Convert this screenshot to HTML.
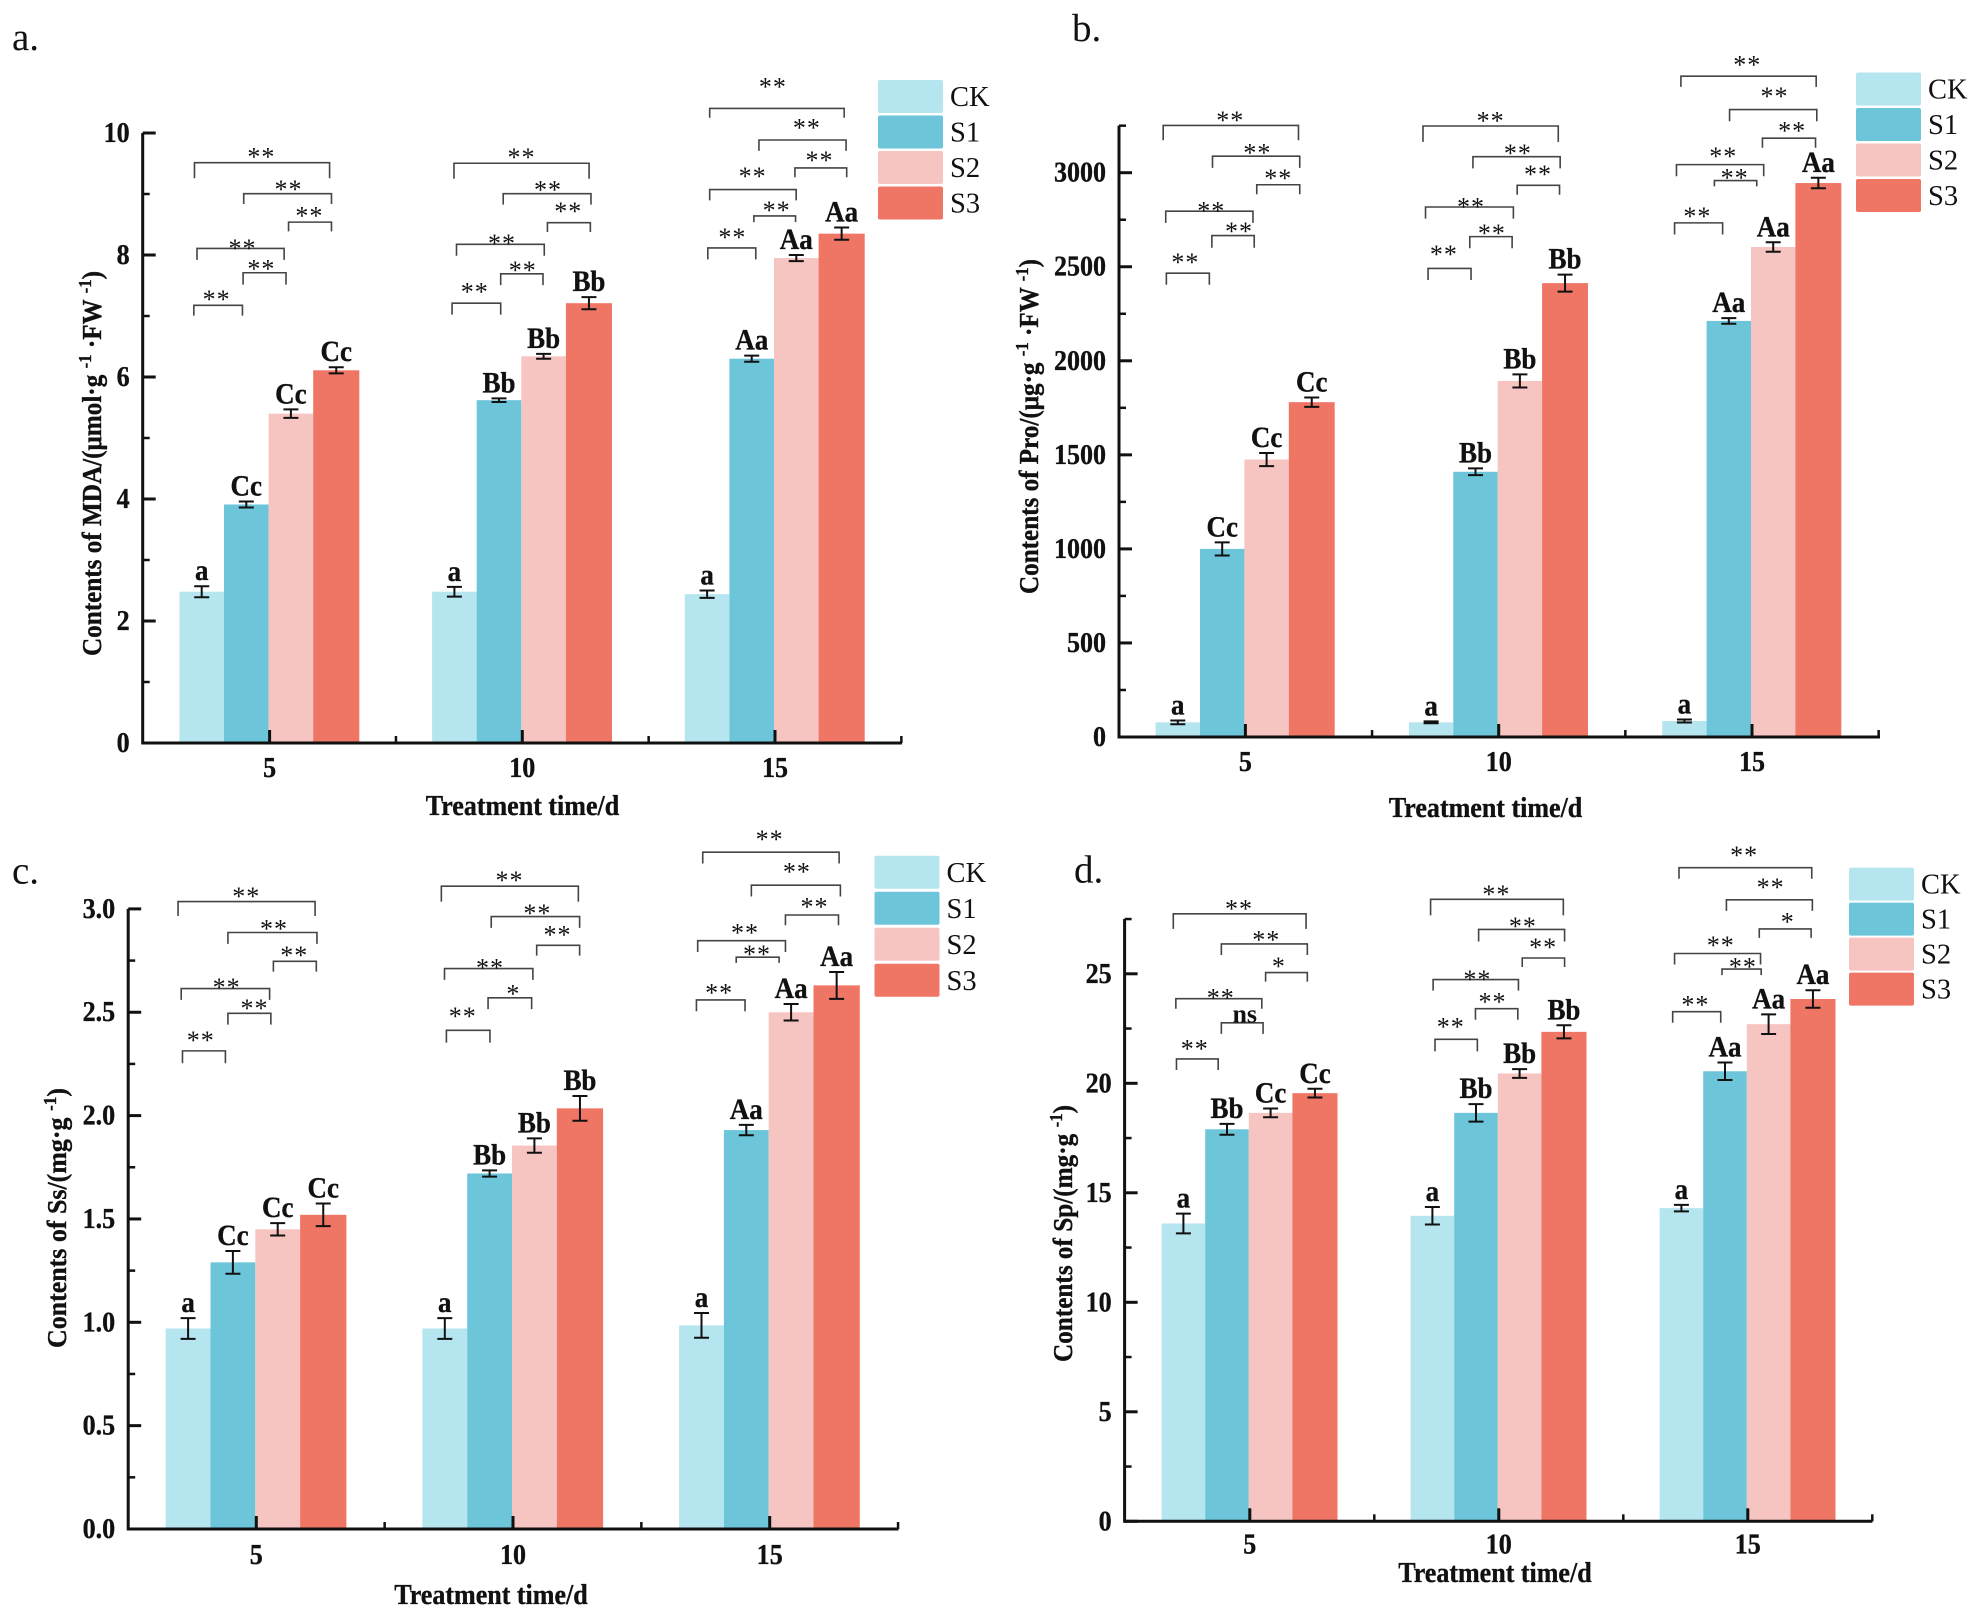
<!DOCTYPE html>
<html lang="en">
<head>
<meta charset="utf-8">
<title>Contents of MDA, Pro, Ss and Sp under treatment time</title>
<style>
html,body{margin:0;padding:0;background:#fff;}
svg{display:block;}
text{font-family:"Liberation Serif","Noto Serif CJK SC",serif;fill:#111;}
text.heavy{stroke:#111;stroke-width:0.35px;}
</style>
</head>
<body>
<svg id="figure" xmlns="http://www.w3.org/2000/svg" width="1981" height="1617" viewBox="0 0 1981 1617"></svg>
<script>
const categories = ['5', '10', '15'];
const seriesNames = ['CK', 'S1', 'S2', 'S3'];

const mdaCK = [2.48, 2.48, 2.44];
const mdaS1 = [3.91, 5.62, 6.30];
const mdaS2 = [5.40, 6.34, 7.95];
const mdaS3 = [6.11, 7.21, 8.35];
const mdaCKErr = [0.09, 0.08, 0.06];
const mdaS1Err = [0.05, 0.03, 0.05];
const mdaS2Err = [0.07, 0.04, 0.05];
const mdaS3Err = [0.05, 0.10, 0.10];
const mdaTicks = ['0', '2', '4', '6', '8', '10'];

const proCK = [78, 78, 85];
const proS1 = [1000, 1410, 2212];
const proS2 = [1475, 1893, 2605];
const proS3 = [1780, 2413, 2945];
const proCKErr = [10, 5, 8];
const proS1Err = [35, 18, 15];
const proS2Err = [35, 35, 25];
const proS3Err = [25, 45, 28];
const proTicks = ['0', '500', '1000', '1500', '2000', '2500', '3000'];

const ssCK = [0.97, 0.97, 0.985];
const ssS1 = [1.29, 1.72, 1.93];
const ssS2 = [1.45, 1.855, 2.50];
const ssS3 = [1.52, 2.035, 2.63];
const ssCKErr = [0.05, 0.05, 0.06];
const ssS1Err = [0.055, 0.015, 0.025];
const ssS2Err = [0.03, 0.035, 0.04];
const ssS3Err = [0.055, 0.06, 0.065];
const ssTicks = ['0.0', '0.5', '1.0', '1.5', '2.0', '2.5', '3.0'];

const spCK = [13.6, 13.95, 14.3];
const spS1 = [17.9, 18.65, 20.55];
const spS2 = [18.65, 20.45, 22.7];
const spS3 = [19.55, 22.35, 23.85];
const spCKErr = [0.45, 0.4, 0.15];
const spS1Err = [0.25, 0.4, 0.4];
const spS2Err = [0.2, 0.2, 0.45];
const spS3Err = [0.2, 0.3, 0.4];
const spTicks = ['0', '5', '10', '15', '20', '25'];

const lettersCK = ['a', 'a', 'a'];
const lettersCBA = ['Cc', 'Bb', 'Aa'];
const lettersBBA = ['Bb', 'Bb', 'Aa'];

const seriesColors = ['#b5e5ef', '#6cc5d9', '#f7c5c1', '#ef7565'];

const NS = 'http://www.w3.org/2000/svg';
const figure = document.getElementById('figure');

function make(tag, attrs, parent, text) {
  const el = document.createElementNS(NS, tag);
  for (const k in attrs) el.setAttribute(k, attrs[k]);
  if (text !== undefined) el.textContent = text;
  parent.appendChild(el);
  return el;
}

// Narrow a label horizontally about its own x position.
function squash(el, x, f) {
  el.setAttribute('transform', 'translate(' + (x * (1 - f)) + ' 0) scale(' + f + ' 1)');
  el.setAttribute('class', 'heavy');
}

function yScale(p) {
  return function (v) { return p.yZero - v * p.pxPerUnit; };
}
function xScale(p) {
  return function (groupIndex) { return p.xFirst + groupIndex * p.xStep; };
}

function drawPanel(p) {
  const g = make('g', {}, figure);
  
  
  const y = yScale(p);
  const x = xScale(p);

  const panelLetter = make('text', {x: p.letterX, y: p.letterY, 'font-size': 39}, g, p.id + '.');
  
  

  // bars, error bars and letters
  p.values.forEach(function (series, s) {
    series.forEach(function (v, c) {
      const left = x(c) - 2 * p.barW + s * p.barW - 1;
      const w = s === 3 ? p.barW + 1.5 : p.barW;
      const bar = make('rect', {x: left, y: y(v), width: w, height: p.yZero - y(v), fill: seriesColors[s]}, g);
      
      
    });
  });
  p.values.forEach(function (series, s) {
    const errs = p.errors[s];
    const letters = p.letters[s];
    series.forEach(function (v, c) {
      const w = s === 3 ? p.barW + 1.5 : p.barW;
      const cx = x(c) - 2 * p.barW + s * p.barW - 1 + w / 2;
      const top = y(v + errs[c]);
      const bot = y(v - errs[c]);
      const d = 'M' + (cx - 7.5) + ' ' + top + 'H' + (cx + 7.5) + 'M' + cx + ' ' + top + 'V' + bot + 'M' + (cx - 7.5) + ' ' + bot + 'H' + (cx + 7.5);
      const err = make('path', {d: d, stroke: '#111', 'stroke-width': 2, fill: 'none'}, g);
      
      
      const lab = make('text', {x: cx, y: top - 6, 'font-size': 30, 'font-weight': 'bold', 'text-anchor': 'middle'}, g, letters[c]);
      squash(lab, cx, 0.9);
      
      
    });
  });

  // y axis
  const yAxis = make('path', {d: 'M' + p.xAxis + ' ' + (p.yZero + 1.5) + 'V' + y(p.yTop), stroke: '#111', 'stroke-width': 3, fill: 'none'}, g);
  
  
  p.ticks.forEach(function (t, i) {
    const v = parseFloat(t);
    const tick = make('path', {d: 'M' + p.xAxis + ' ' + y(v) + 'h13', stroke: '#111', 'stroke-width': 3}, g);
    
    
    const label = make('text', {x: p.xAxis - 13, y: y(v) + 9, 'font-size': 28, 'font-weight': 'bold', 'text-anchor': 'end'}, g, t);
    squash(label, p.xAxis - 13, 0.93);
    
    
    const step = parseFloat(p.ticks[1]) - parseFloat(p.ticks[0]);
    const mid = v + step / 2;
    if (mid <= p.yTop) {
      const minor = make('path', {d: 'M' + p.xAxis + ' ' + y(mid) + 'h7', stroke: '#111', 'stroke-width': 2.5}, g);
      
      
    }
  });

  // x axis
  const xAxis = make('path', {d: 'M' + p.xAxis + ' ' + p.yZero + 'H' + p.xEnd, stroke: '#111', 'stroke-width': 3, fill: 'none'}, g);
  
  
  categories.forEach(function (cat, c) {
    const tick = make('path', {d: 'M' + x(c) + ' ' + p.yZero + 'v-13', stroke: '#111', 'stroke-width': 3}, g);
    
    
    const minor = make('path', {d: 'M' + (x(c) + p.xStep / 2) + ' ' + p.yZero + 'v-7', stroke: '#111', 'stroke-width': 2.5}, g);
    
    
    const label = make('text', {x: x(c), y: p.yZero + p.xLabelGap, 'font-size': 28, 'font-weight': 'bold', 'text-anchor': 'middle'}, g, cat);
    squash(label, x(c), 0.93);
    
    
  });

  // axis titles
  const xTitle = make('text', {x: p.xTitleX, y: p.xTitleY, 'font-size': 28, 'font-weight': 'bold', 'text-anchor': 'middle'}, g, 'Treatment time/d');
  squash(xTitle, p.xTitleX, 0.93);
  
  

  const yTitle = make('text', {class: 'heavy', x: p.yTitleX, y: p.yTitleY, 'font-size': 27, 'font-weight': 'bold', 'text-anchor': 'middle', textLength: p.yTitleLen, lengthAdjust: 'spacingAndGlyphs', transform: 'rotate(-90 ' + p.yTitleX + ' ' + p.yTitleY + ')'}, g);
  yTitle.innerHTML = p.yTitleMarkup;
  
  

  // legend
  seriesNames.forEach(function (name, s) {
    const entry = make('g', {}, g);
    
    
    const sy = p.legendY + s * p.legendStep;
    const swatch = make('rect', {x: p.legendX, y: sy, width: 65, height: 33, rx: 2, fill: seriesColors[s]}, entry);
    
    
    const label = make('text', {x: p.legendX + 72, y: sy + 26, 'font-size': 28.5}, entry, name);
    
    
  });

  p.group = g;
}

// Significance bracket, given in the panel's annotation grid.
function bracket(p, x1, x2, top, drop, sx, sy, mark) {
  const ax = function (v) { return p.annX + v / p.annSx; };
  const ay = function (v) { return p.annY + v / p.annSy; };
  const d = 'M' + ax(x1) + ' ' + ay(top + drop) + 'V' + ay(top) + 'H' + ax(x2) + 'V' + ay(top + drop);
  const line = make('path', {d: d, fill: 'none', stroke: '#444', 'stroke-width': 1.6}, p.group);
  
  
  const label = mark || '**';
  const isNs = label === 'ns';
  const t = make('text', {x: ax(sx), y: ay(sy) + (isNs ? 8 : 12), 'font-size': 26, 'font-weight': isNs ? 'bold' : 'normal', 'text-anchor': 'middle', 'letter-spacing': isNs ? 0 : 1}, p.group, label);
  
  
}

const SUP = function (s) { return '<tspan dy="-10" font-size="18">' + s + '</tspan>'; };
const DOWN = function (s) { return '<tspan dy="10">' + s + '</tspan>'; };

const panelA = {
  id: 'a', letterX: 12, letterY: 50,
  values: [mdaCK, mdaS1, mdaS2, mdaS3], errors: [mdaCKErr, mdaS1Err, mdaS2Err, mdaS3Err],
  letters: [lettersCK, lettersCBA, lettersCBA, lettersCBA], ticks: mdaTicks,
  yZero: 743, pxPerUnit: 61, yTop: 10, xAxis: 142.7, xEnd: 902, xFirst: 269.6, xStep: 252.7, barW: 44.6,
  xLabelGap: 34, xTitleX: 522.5, xTitleY: 815,
  yTitleX: 101, yTitleY: 463.5, yTitleLen: 385,
  yTitleMarkup: 'Contents of MDA/(μmol·g ' + SUP('-1') + DOWN(' ·FW ') + SUP('-1') + DOWN(')'),
  legendX: 878, legendY: 80, legendStep: 35.5,
  annX: 0, annY: 0, annSx: 1.5838, annSy: 1.9358
};
const panelB = {
  id: 'b', letterX: 1072, letterY: 41,
  values: [proCK, proS1, proS2, proS3], errors: [proCKErr, proS1Err, proS2Err, proS3Err],
  letters: [lettersCK, lettersCBA, lettersCBA, lettersCBA], ticks: proTicks,
  yZero: 737, pxPerUnit: 0.1881, yTop: 3250, xAxis: 1119, xEnd: 1880, xFirst: 1245.4, xStep: 253.3, barW: 44.4,
  xLabelGap: 34, xTitleX: 1485.6, xTitleY: 817,
  yTitleX: 1038, yTitleY: 426.5, yTitleLen: 335,
  yTitleMarkup: 'Contents of Pro/(μg·g ' + SUP('-1') + DOWN(' ·FW ') + SUP('-1') + DOWN(')'),
  legendX: 1856, legendY: 72.5, legendStep: 35.5,
  annX: 990, annY: 0, annSx: 1.582, annSy: 1.889
};
const panelC = {
  id: 'c', letterX: 12, letterY: 883.6,
  values: [ssCK, ssS1, ssS2, ssS3], errors: [ssCKErr, ssS1Err, ssS2Err, ssS3Err],
  letters: [lettersCK, lettersCBA, lettersCBA, lettersCBA], ticks: ssTicks,
  yZero: 1529, pxPerUnit: 206.7, yTop: 3, xAxis: 128.2, xEnd: 898.5, xFirst: 256.3, xStep: 256.7, barW: 44.8,
  xLabelGap: 35, xTitleX: 491, xTitleY: 1604,
  yTitleX: 66, yTitleY: 1218, yTitleLen: 260,
  yTitleMarkup: 'Contents of Ss/(mg·g ' + SUP('-1') + DOWN(')'),
  legendX: 874.5, legendY: 855.8, legendStep: 36,
  annX: 0, annY: 810, annSx: 1.5838, annSy: 1.943
};
const panelD = {
  id: 'd', letterX: 1074, letterY: 882.7,
  values: [spCK, spS1, spS2, spS3], errors: [spCKErr, spS1Err, spS2Err, spS3Err],
  letters: [lettersCK, lettersBBA, lettersCBA, lettersCBA], ticks: spTicks,
  yZero: 1521.3, pxPerUnit: 21.9, yTop: 27.5, xAxis: 1124.6, xEnd: 1872.4, xFirst: 1249.8, xStep: 249, barW: 43.6,
  xLabelGap: 32, xTitleX: 1495, xTitleY: 1582,
  yTitleX: 1072, yTitleY: 1233.5, yTitleLen: 257,
  yTitleMarkup: 'Contents of Sp/(mg·g ' + SUP('-1') + DOWN(')'),
  legendX: 1849, legendY: 867.6, legendStep: 35,
  annX: 990, annY: 830, annSx: 1.582, annSy: 1.992
};

[panelA, panelB, panelC, panelD].forEach(drawPanel);

// Panel a brackets
bracket(panelA, 308, 522, 315, 30, 414, 297);
bracket(panelA, 386, 525, 375, 20, 457, 360);
bracket(panelA, 457, 525, 430, 18, 490, 411);
bracket(panelA, 312, 450, 481, 22, 384, 474);
bracket(panelA, 385, 453, 528, 23, 414, 514);
bracket(panelA, 307, 384, 591, 20, 343, 573);
bracket(panelA, 719, 933, 316, 30, 826, 298);
bracket(panelA, 797, 936, 375, 21, 868, 361);
bracket(panelA, 867, 935, 431, 18, 900, 403);
bracket(panelA, 723, 862, 473, 22, 795, 465);
bracket(panelA, 793, 860, 530, 22, 828, 517);
bracket(panelA, 716, 793, 587, 22, 752, 558);
bracket(panelA, 1124, 1337, 210, 18, 1224, 162);
bracket(panelA, 1202, 1340, 271, 21, 1278, 241);
bracket(panelA, 1259, 1341, 325, 18, 1298, 304);
bracket(panelA, 1124, 1261, 367, 21, 1192, 335);
bracket(panelA, 1194, 1260, 418, 12, 1230, 401);
bracket(panelA, 1121, 1197, 480, 22, 1160, 453);

// Panel b brackets
bracket(panelB, 274, 488, 237, 28, 380, 221);
bracket(panelB, 352, 490, 295, 22, 423, 282);
bracket(panelB, 422, 490, 349, 18, 456, 331);
bracket(panelB, 278, 416, 399, 22, 350, 392);
bracket(panelB, 351, 418, 445, 23, 394, 431);
bracket(panelB, 279, 347, 516, 22, 309, 489);
bracket(panelB, 685, 899, 238, 30, 792, 222);
bracket(panelB, 764, 902, 296, 22, 835, 283);
bracket(panelB, 834, 901, 350, 18, 867, 323);
bracket(panelB, 689, 828, 391, 22, 761, 384);
bracket(panelB, 759, 826, 447, 22, 794, 434);
bracket(panelB, 693, 761, 507, 22, 718, 474);
bracket(panelB, 1093, 1307, 144, 20, 1198, 116);
bracket(panelB, 1170, 1308, 207, 22, 1241, 176);
bracket(panelB, 1222, 1306, 261, 18, 1269, 241);
bracket(panelB, 1086, 1224, 311, 22, 1160, 289);
bracket(panelB, 1146, 1213, 341, 11, 1178, 330);
bracket(panelB, 1083, 1159, 421, 22, 1119, 402);

// Panel c brackets
bracket(panelC, 282, 499, 178, 28, 390, 161);
bracket(panelC, 361, 502, 238, 22, 434, 224);
bracket(panelC, 433, 501, 294, 20, 466, 276);
bracket(panelC, 287, 427, 347, 22, 359, 338);
bracket(panelC, 361, 429, 395, 22, 403, 379);
bracket(panelC, 289, 357, 468, 24, 318, 441);
bracket(panelC, 699, 916, 148, 30, 807, 130);
bracket(panelC, 778, 918, 207, 22, 851, 194);
bracket(panelC, 850, 918, 263, 20, 883, 236);
bracket(panelC, 704, 844, 308, 22, 776, 300);
bracket(panelC, 773, 842, 365, 22, 813, 351, '*');
bracket(panelC, 707, 776, 428, 24, 733, 394);
bracket(panelC, 1113, 1329, 82, 22, 1219, 51);
bracket(panelC, 1190, 1331, 146, 22, 1262, 114);
bracket(panelC, 1244, 1328, 204, 20, 1290, 182);
bracket(panelC, 1105, 1244, 254, 22, 1180, 232);
bracket(panelC, 1166, 1234, 286, 11, 1199, 274);
bracket(panelC, 1103, 1180, 369, 22, 1139, 349);

// Panel d brackets
bracket(panelD, 290, 500, 167, 30, 394, 150);
bracket(panelD, 366, 502, 227, 22, 437, 212);
bracket(panelD, 436, 502, 284, 18, 457, 265, '*');
bracket(panelD, 294, 430, 336, 20, 365, 328);
bracket(panelD, 366, 432, 384, 22, 403, 368, 'ns');
bracket(panelD, 295, 361, 456, 22, 324, 429);
bracket(panelD, 697, 907, 138, 32, 801, 122);
bracket(panelD, 773, 909, 198, 24, 843, 185);
bracket(panelD, 842, 909, 255, 18, 875, 227);
bracket(panelD, 701, 836, 298, 22, 771, 291);
bracket(panelD, 768, 835, 356, 22, 795, 336);
bracket(panelD, 704, 771, 417, 24, 729, 385);
bracket(panelD, 1090, 1300, 75, 22, 1193, 44);
bracket(panelD, 1165, 1301, 139, 22, 1235, 108);
bracket(panelD, 1217, 1299, 197, 18, 1262, 176, '*');
bracket(panelD, 1083, 1219, 246, 22, 1156, 223);
bracket(panelD, 1158, 1220, 277, 12, 1191, 266);
bracket(panelD, 1080, 1156, 362, 22, 1116, 342);
</script>
</body>
</html>
